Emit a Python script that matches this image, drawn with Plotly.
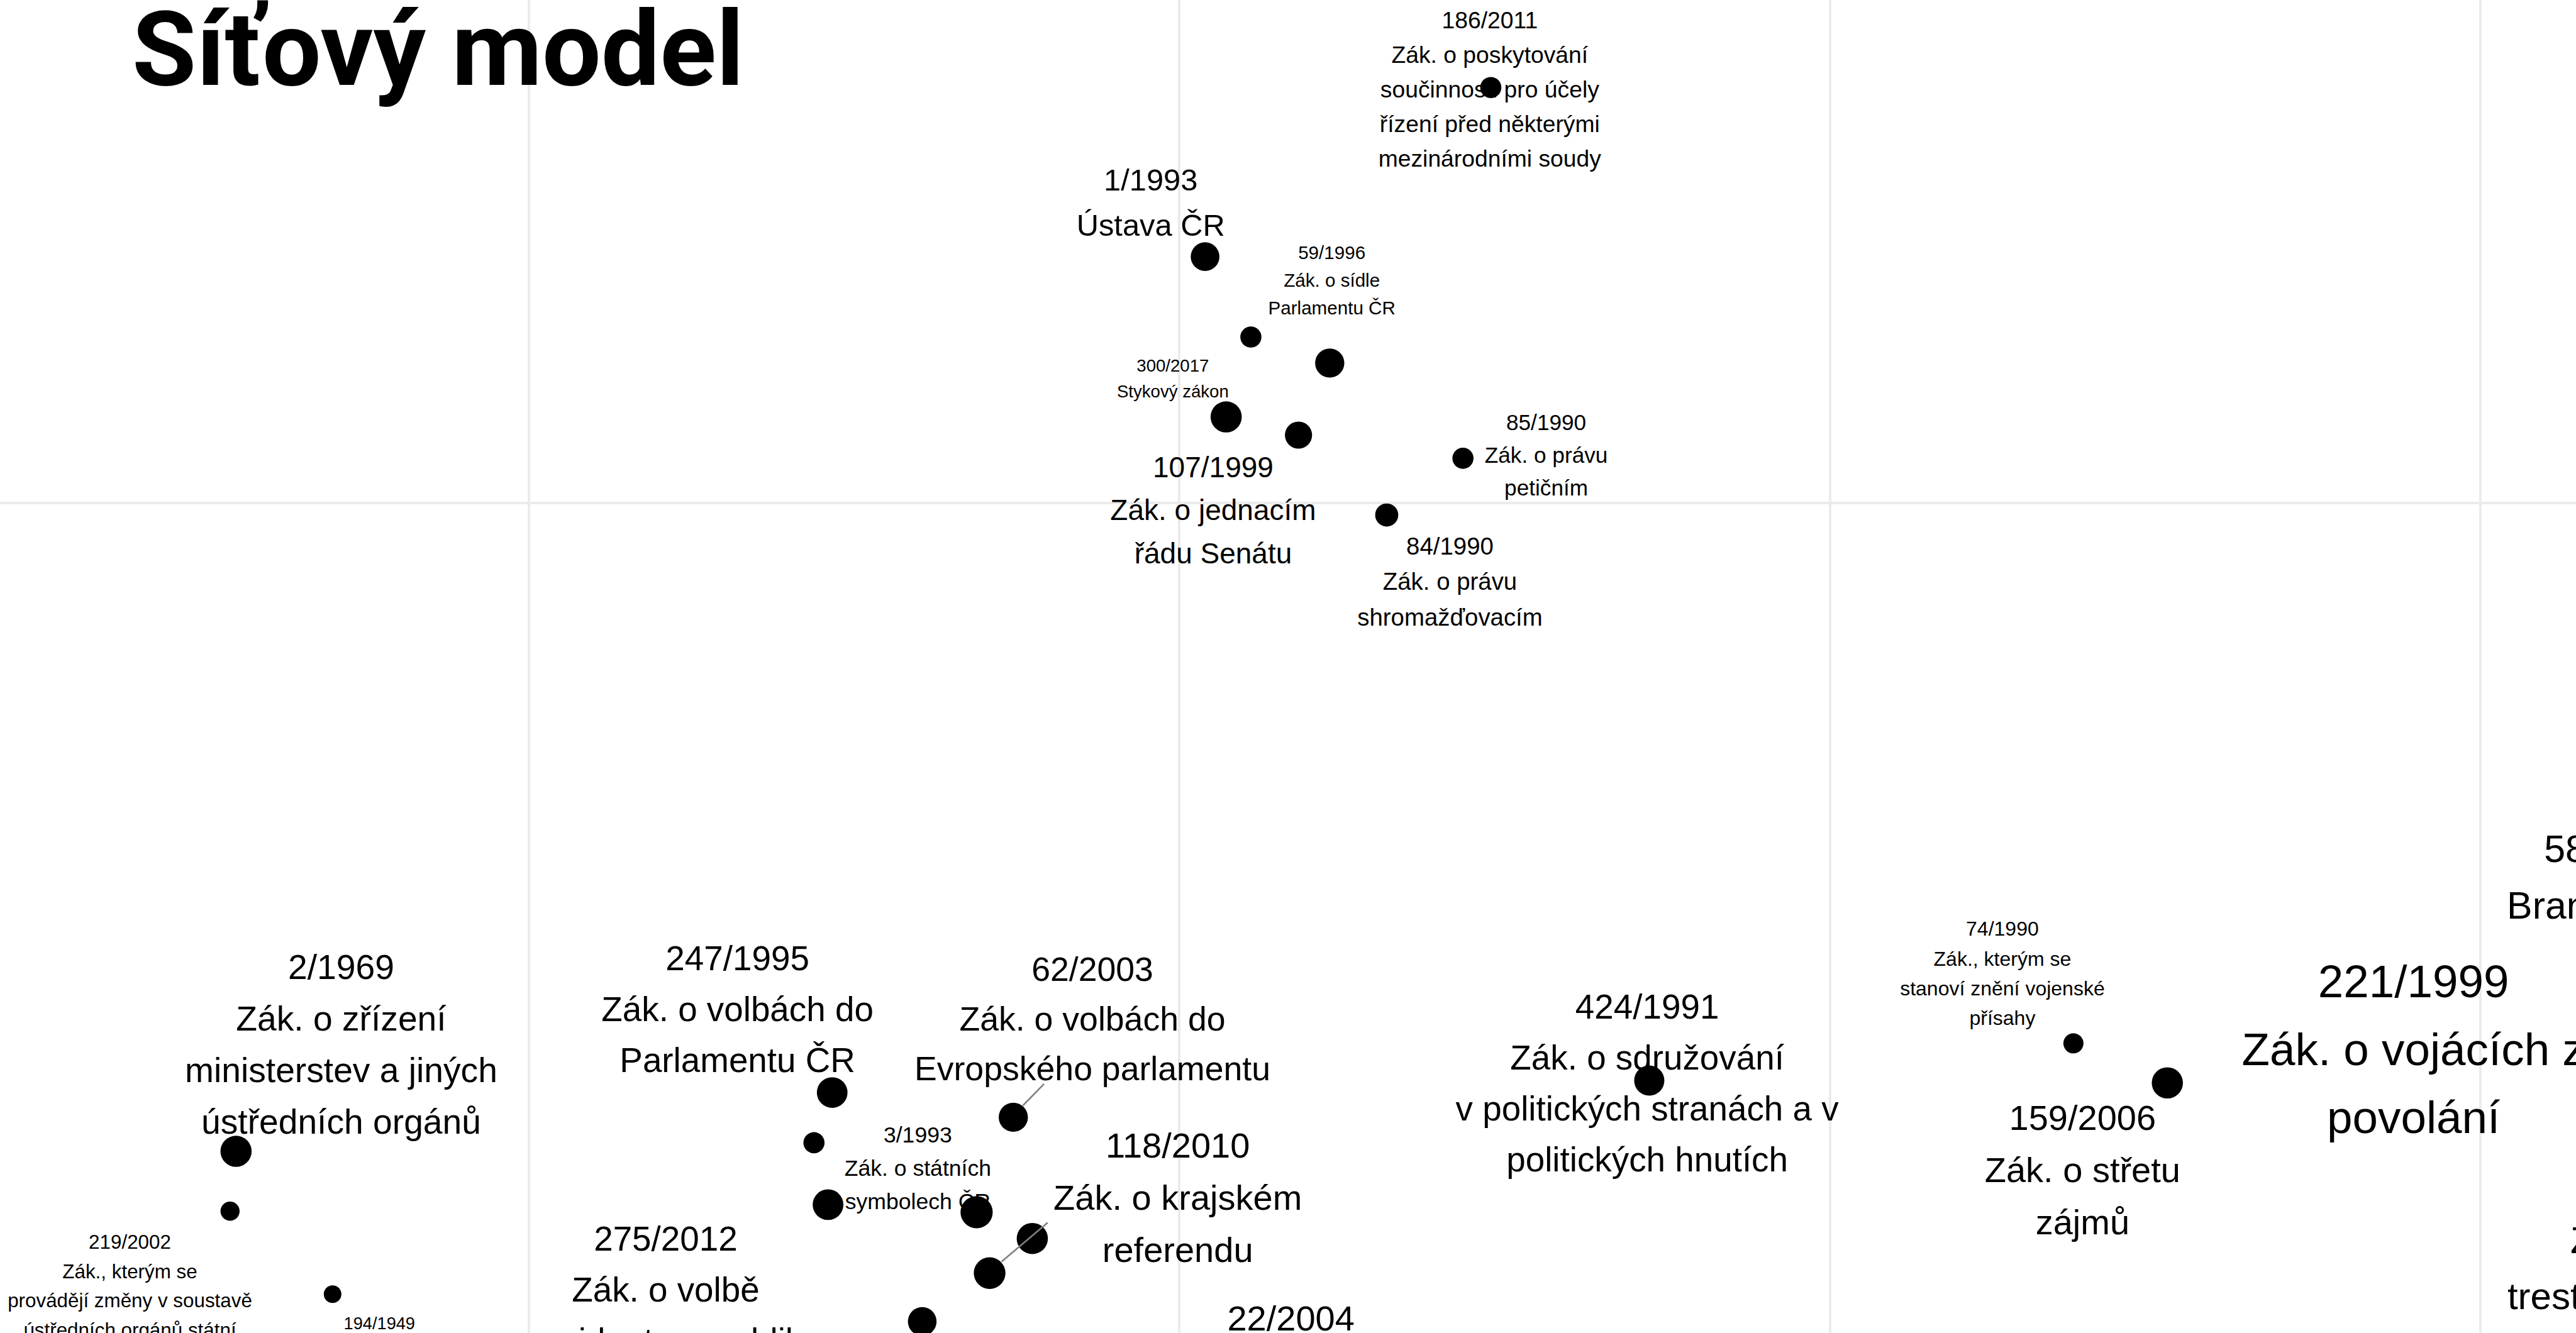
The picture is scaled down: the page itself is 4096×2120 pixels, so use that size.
import plotly.graph_objects as go

# ---------------- data (network layout coordinates) ----------------
X_RANGE = [0.04679, 1.03674]
Y_RANGE = [0.18097, 0.69335]
X_GRID = [0.25, 0.5, 0.75, 1.0]
Y_GRID = [0.5]

node_x = [0.6197, 0.5099, 0.5275, 0.5578, 0.5180, 0.5458, 0.6090, 0.5797,
          0.1375, 0.1352, 0.1746, 0.3666, 0.3596, 0.3650, 0.4221, 0.4271,
          0.4012, 0.4362, 0.4435, 0.6806, 0.8436, 0.8797]
node_y = [0.6597, 0.5947, 0.5638, 0.5538, 0.5331, 0.5261, 0.5172, 0.4954,
          0.2508, 0.2278, 0.1959, 0.2734, 0.2541, 0.2303, 0.2274, 0.2040,
          0.1854, 0.2639, 0.2173, 0.2780, 0.2923, 0.2771]
node_value = [42, 57, 42, 58, 62, 54, 42, 46,
              62, 38, 35, 61, 42, 61, 64, 63,
              57, 58, 62, 60, 40, 62]

label_text = [
    "186/2011\nZák. o poskytování\nsoučinnosti pro účely\nřízení před některými\nmezinárodními soudy",
    "1/1993\nÚstava ČR",
    "59/1996\nZák. o sídle\nParlamentu ČR",
    "300/2017\nStykový zákon",
    "107/1999\nZák. o jednacím\nřádu Senátu",
    "85/1990\nZák. o právu\npetičním",
    "84/1990\nZák. o právu\nshromažďovacím",
    "2/1969\nZák. o zřízení\nministerstev a jiných\nústředních orgánů",
    "219/2002\nZák., kterým se\nprovádějí změny v soustavě\nústředních orgánů státní",
    "194/1949",
    "247/1995\nZák. o volbách do\nParlamentu ČR",
    "3/1993\nZák. o státních\nsymbolech ČR",
    "275/2012\nZák. o volbě\nprezidenta republiky",
    "62/2003\nZák. o volbách do\nEvropského parlamentu",
    "118/2010\nZák. o krajském\nreferendu",
    "22/2004\nZák. o místním\nreferendu",
    "424/1991\nZák. o sdružování\nv politických stranách a v\npolitických hnutích",
    "74/1990\nZák., kterým se\nstanoví znění vojenské\npřísahy",
    "159/2006\nZák. o střetu\nzájmů",
    "221/1999\nZák. o vojácích z\npovolání",
    "585/2004\nBranný zákon",
    "169/1999\nZák. o výkonu\ntrestu odnětí svobody",
]
label_x = [0.6193, 0.4890, 0.5586, 0.4975, 0.5130, 0.6410, 0.6040, 0.1779,
           0.0967, 0.1926, 0.3302, 0.3995, 0.3026, 0.4666, 0.4994, 0.5429,
           0.6798, 0.8163, 0.8471, 0.9743, 1.0551, 1.0797]
label_y = [0.6858, 0.6243, 0.5963, 0.5528, 0.5138, 0.5312, 0.4836, 0.3217,
           0.2160, 0.1848, 0.3252, 0.2572, 0.2173, 0.3210, 0.2533, 0.1868,
           0.3066, 0.3364, 0.2639, 0.3163, 0.3672, 0.2382]
label_value = [46.6, 61, 37, 34.5, 57.5, 44, 48, 69,
               39.2, 34, 68.5, 44.5, 68.5, 67, 70, 70,
               68.5, 40, 70, 91, 76, 75]

seg_x0 = [0.4480, 0.4494]
seg_y0 = [0.2767, 0.2234]
seg_x1 = [0.4399, 0.4317]
seg_y1 = [0.2684, 0.2084]

TITLE = "Síťový model"

# ---------------- figure ----------------
W, H = 4096, 2120
SCALE = 0.8
LINE_HEIGHT = 1.48
ppu = H / (Y_RANGE[1] - Y_RANGE[0])

fig = go.Figure()

fig.add_trace(go.Scatter(
    x=node_x, y=node_y, mode="markers",
    marker=dict(color="#000000", opacity=1, size=[v * SCALE for v in node_value],
                line=dict(width=0)),
    hoverinfo="skip", showlegend=False,
))

sx, sy = [], []
for a, b, c, d in zip(seg_x0, seg_y0, seg_x1, seg_y1):
    sx += [a, c, None]
    sy += [b, d, None]
fig.add_trace(go.Scatter(
    x=sx, y=sy, mode="lines", line=dict(color="#808080", width=2.6),
    hoverinfo="skip", showlegend=False,
))

tx, ty, tt, ts = [], [], [], []
for txt, lx, ly, v in zip(label_text, label_x, label_y, label_value):
    fs = v * SCALE
    for j, line in enumerate(txt.split("\n")):
        tx.append(lx)
        ty.append(ly - (j * LINE_HEIGHT + 0.108) * fs / ppu)
        tt.append(line)
        ts.append(fs)
fig.add_trace(go.Scatter(
    x=tx, y=ty, mode="text", text=tt, textposition="middle center",
    textfont=dict(family="Liberation Sans, Arial, sans-serif", size=ts, color="#000000"),
    hoverinfo="skip", showlegend=False, cliponaxis=True,
))

fig.add_annotation(
    text="<b>" + TITLE + "</b>", xref="paper", yref="paper",
    x=208 / W, y=0.916, xanchor="left", yanchor="bottom", showarrow=False,
    font=dict(family="Roboto", size=166, color="#000000"),
)

axis_common = dict(showticklabels=False, ticks="", zeroline=False, showline=False,
                   showgrid=True, gridcolor="#ebebeb", gridwidth=4)
fig.update_xaxes(range=X_RANGE, tickvals=X_GRID, **axis_common)
fig.update_yaxes(range=Y_RANGE, tickvals=Y_GRID, **axis_common)

fig.update_layout(
    width=W, height=H, margin=dict(l=0, r=0, t=0, b=0, pad=0),
    paper_bgcolor="white", plot_bgcolor="white", showlegend=False,
    hovermode=False,
)

fig.write_html("out.html", config={"displayModeBar": False},
               post_script="document.body.style.margin='0';document.body.style.overflow='hidden';")
